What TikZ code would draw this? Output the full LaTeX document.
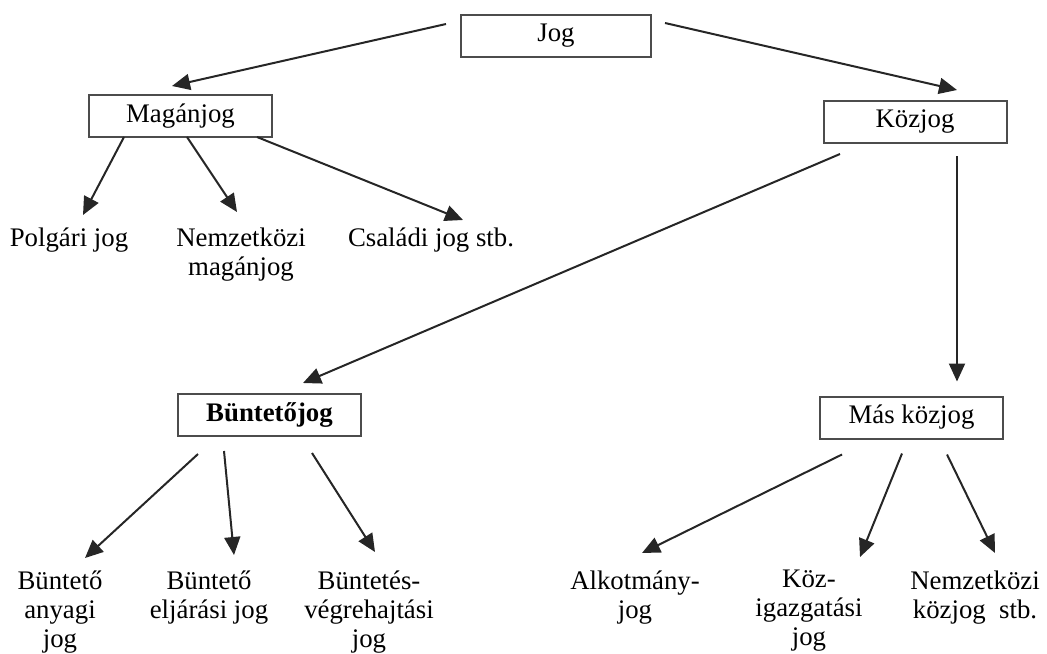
\documentclass[tikz,border=0pt]{standalone}
\usepackage{fontspec}
\setmainfont{Liberation Serif}
\usetikzlibrary{arrows.meta, calc}

\begin{document}
\begin{tikzpicture}[x=0.5pt, y=-0.5pt]
			\tikzset {>={Triangle[length=9pt, width=8pt]},
				every edge/.style={draw=black!85, line width=1pt, ->},
				every node/.style={font=\fontsize{13.4}{14.5}\selectfont, inner sep=0pt},
				box/.style={draw=black!70, line width=1pt, minimum width=91.5pt, minimum height=21pt},
				leaf/.style={anchor=north, align=center} }

			\useasboundingbox (0,0) rectangle (1047,653);

			\node[box, minimum width=95pt] (jog) at (556,36) {Jog};
			\node[box] (mag) at (180.5,116) {Magánjog};
			\node[box] (koz) at (915,122) {Közjog};
			\node[box] (bunt) at (269.5,415) {\textbf{Büntetőjog}};
			\node[box] (mas) at (911.5,417.5) {Más közjog};

			\node[leaf] (polg) at (69,227) {Polgári jog};
			\node[leaf] (nmag) at (241,227) {Nemzetközi\\magánjog};
			\node[leaf] (csal) at (431,227) {Családi jog stb.};

			\node[leaf] (anyagi) at (60,570) {Büntető\\anyagi\\jog};
			\node[leaf] (eljar) at (209,570) {Büntető\\eljárási jog};
			\node[leaf] (vegre) at (369,570) {Büntetés-\\végrehajtási\\jog};
			\node[leaf] (alk) at (635,570) {Alkotmány-\\jog};
			\node[leaf] (kig) at (809,570) {Köz-\\igazgatási\\jog};
			\node[leaf] (nkoz) at (975,570) {Nemzetközi\\közjog\ \ stb.};

			\path
				($(jog.west)+(-14,-12)$) edge ($(mag.north)+(-8.5,-8)$)
				($(jog.east)+(13,-13)$) edge ($(koz.north)+(42,-10)$)
				($(mag.south)+(-56.5,-1)$) edge ($(polg.north)+(14,-12)$)
				($(mag.south)+(6.5,-1)$) edge ($(nmag.north)+(-4,-15)$)
				($(mag.south)+(76.5,-1)$) edge ($(csal.north)+(32,-7)$)
				($(koz.south)+(-75,10)$) edge ($(bunt.north)+(33.5,-10)$)
				($(koz.south)+(42,12)$) edge ($(mas.north)+(45.5,-14)$);

			\path
				($(bunt.south)+(-71.5,17)$) edge ($(anyagi.north)+(25,-12)$)
				($(bunt.south)+(-45.5,14)$) edge ($(eljar.north)+(25,-15)$)
				($(bunt.south)+(42.5,16)$) edge ($(vegre.north)+(6,-18)$)
				($(mas.south)+(-69.5,15)$) edge ($(alk.north)+(7,-17)$)
				($(mas.south)+(-9.5,14)$) edge ($(kig.north)+(51,-13)$)
				($(mas.south)+(35.5,15)$) edge ($(nkoz.north)+(20,-17)$);
		\end{tikzpicture}
\end{document}
